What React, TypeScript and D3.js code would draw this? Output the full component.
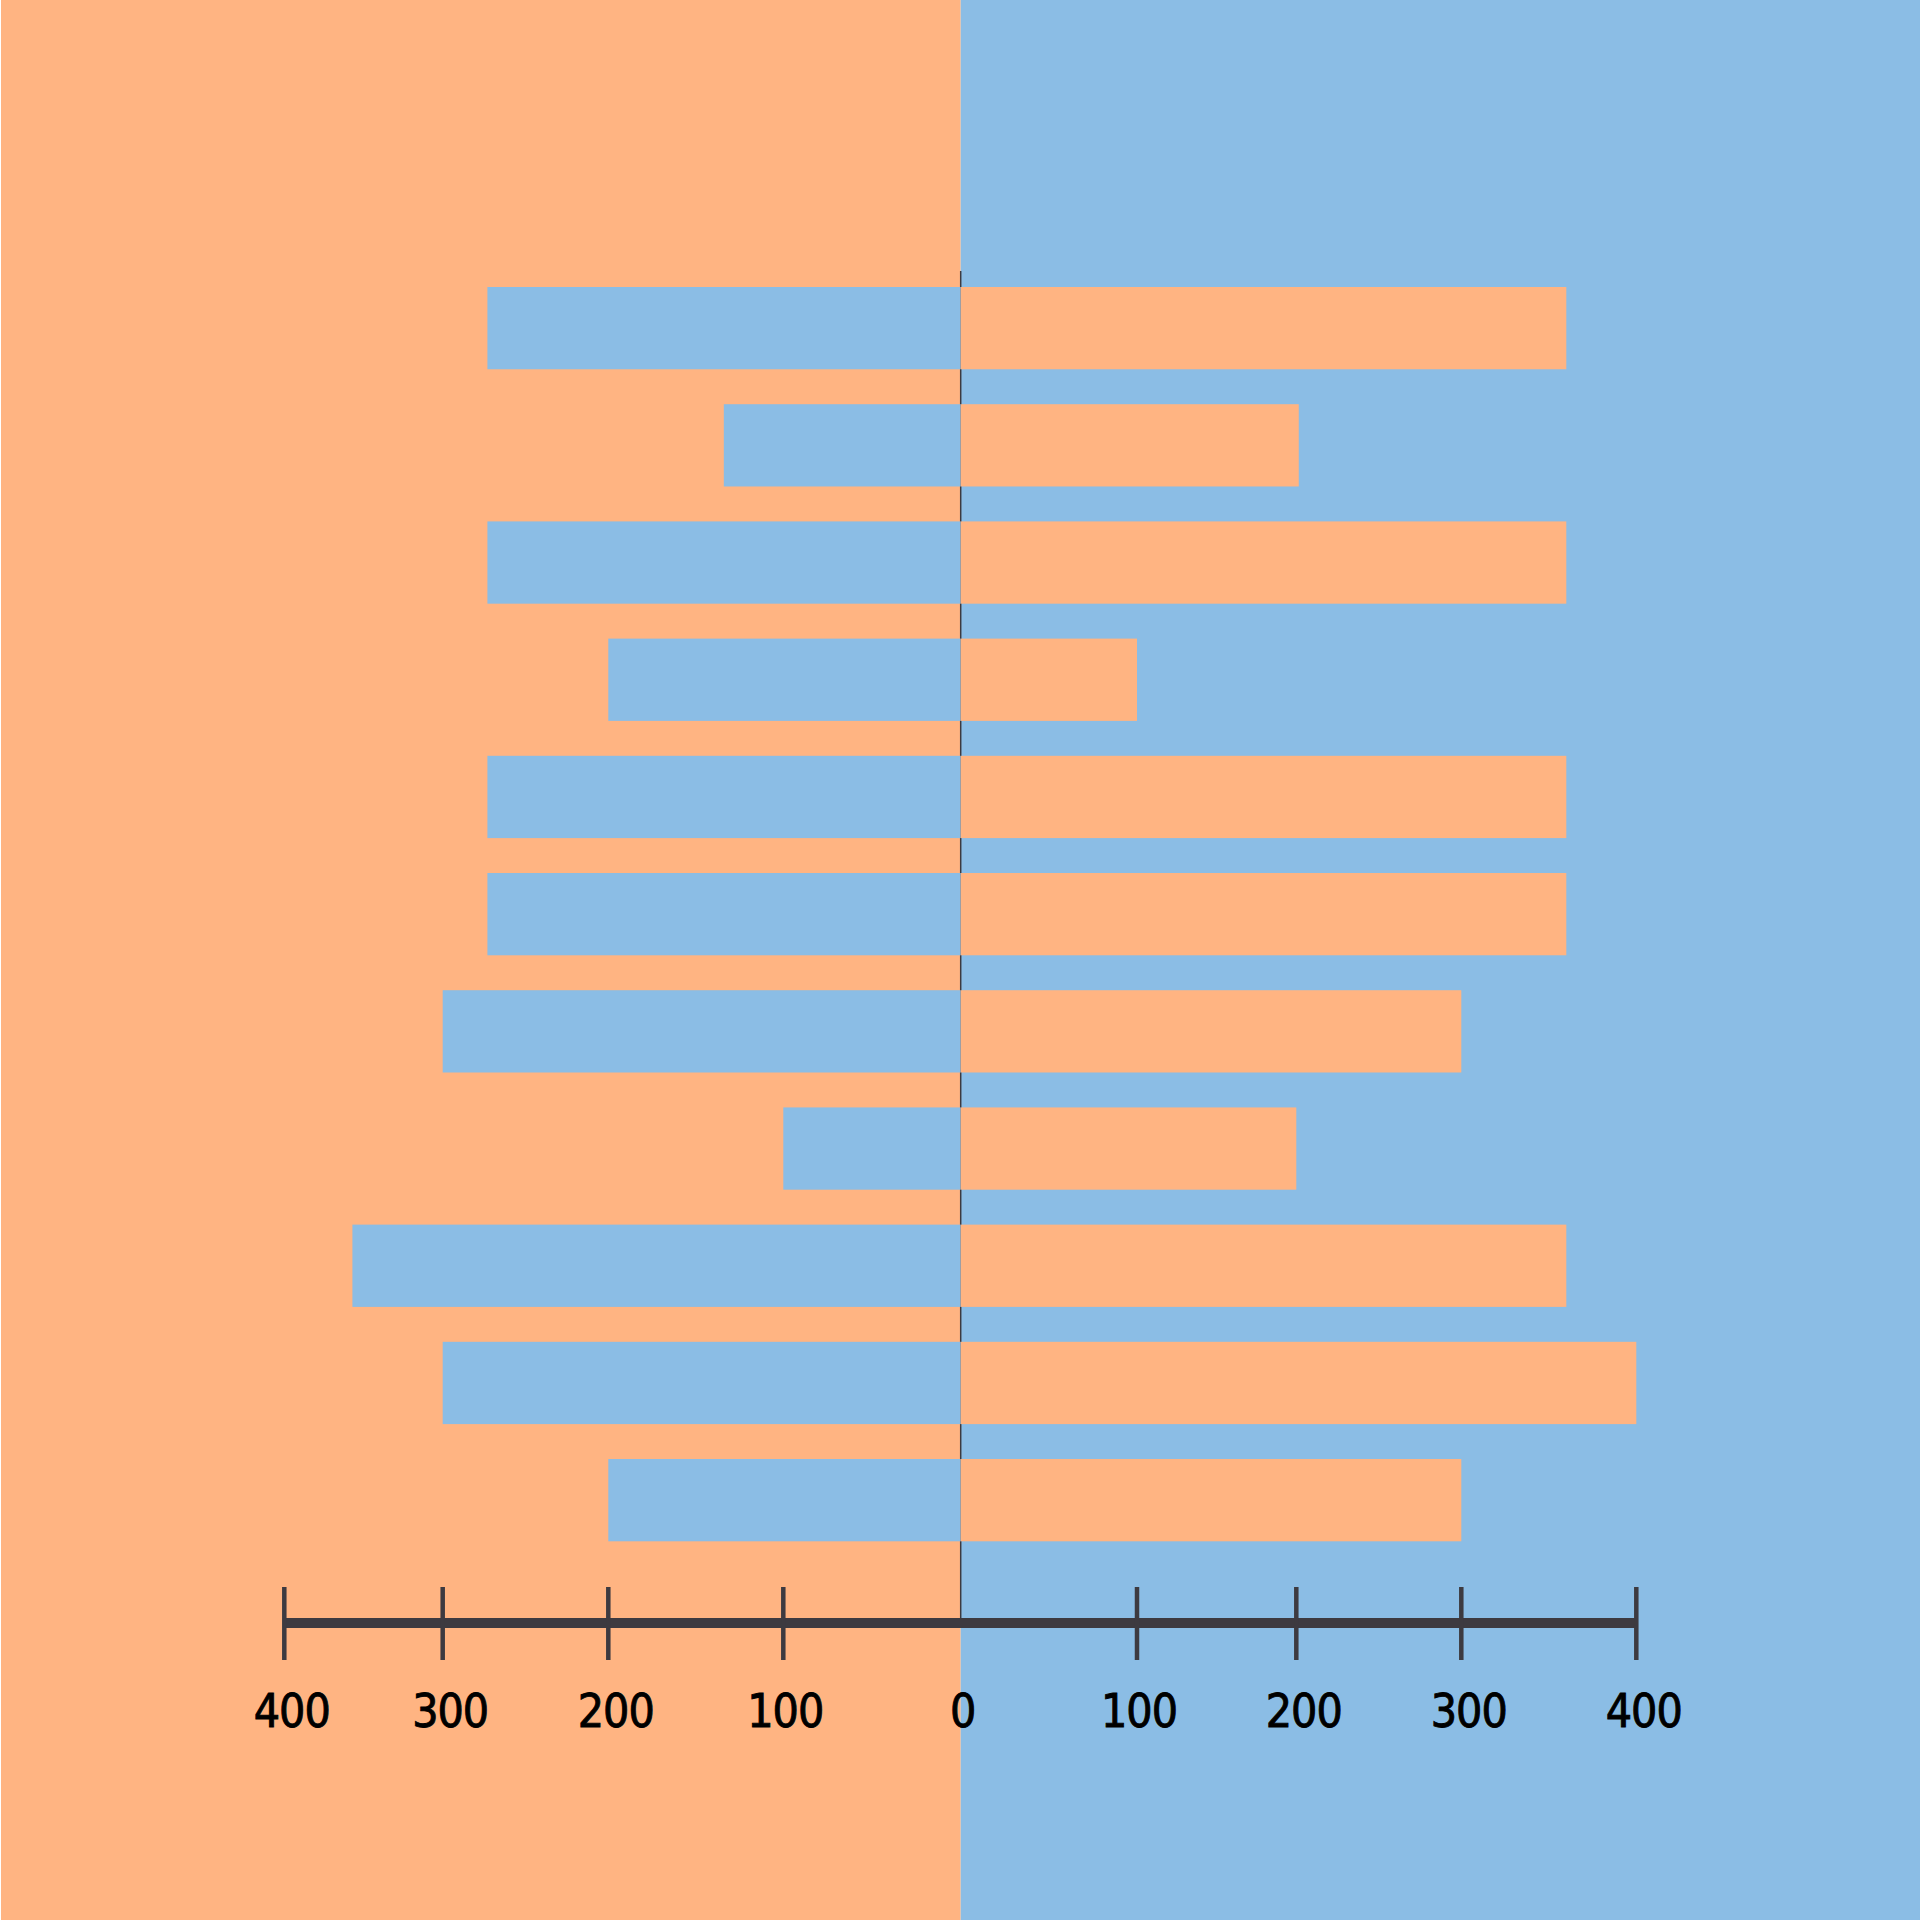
import React from "react";
import * as d3 from "d3";

const categories = ["r1", "r2", "r3", "r4", "r5", "r6", "r7", "r8", "r9", "r10", "r11"];
const leftValues = [273, 134, 273, 200, 273, 273, 300, 100, 357, 300, 200];
const rightValues = [360, 201.5, 360, 100, 360, 360, 300, 200, 360, 400, 300];
const tickValues = [100, 200, 300, 400];
const zeroLabel = "0";

const ORANGE = "#ffb482";
const BLUE = "#8bbde5";
const DARK = "#3d3a40";

export default function App() {
  const W = 1921;
  const H = 1921;
  const cx = 960.7;

  const domain = [0, 100, 200, 300, 400];
  const left = d3.scaleLinear().domain(domain).range([cx, 783.3, 608.3, 442.7, 284.3]);
  const right = d3.scaleLinear().domain(domain).range([cx, 1137, 1296.3, 1461.3, 1636.3]);

  const y = d3
    .scaleBand<string>()
    .domain(categories)
    .range([287, 1541.3])
    .paddingInner(0.298)
    .paddingOuter(0);

  const axisY = 1623;
  const font = "'DejaVu Sans Condensed', 'DejaVu Sans', sans-serif";
  const labelY = 1727;
  const labelDx = (v: number) => (String(v).startsWith("1") || v === 0 ? 2 : 7.5);

  return (
    <svg
      width={W}
      height={H}
      style={{ position: "absolute", left: 0, top: 0, display: "block" }}
    >
      <rect x={0} y={0} width={W} height={H} fill="#ffffff" />
      <rect x={1} y={0} width={cx - 1} height={H - 1} fill={ORANGE} />
      <rect x={cx} y={0} width={W - 1 - cx} height={H - 1} fill={BLUE} />

      <line x1={cx} x2={cx} y1={271} y2={axisY} stroke={DARK} strokeWidth={1.5} />

      {categories.map((c, i) => (
        <g key={c}>
          <rect
            x={left(leftValues[i])}
            y={y(c)}
            width={cx - left(leftValues[i])}
            height={y.bandwidth()}
            fill={BLUE}
          />
          <rect
            x={cx}
            y={y(c)}
            width={right(rightValues[i]) - cx}
            height={y.bandwidth()}
            fill={ORANGE}
          />
        </g>
      ))}

      <line
        x1={left(400)}
        x2={right(400)}
        y1={axisY}
        y2={axisY}
        stroke={DARK}
        strokeWidth={10}
      />
      {tickValues.map((v) => (
        <g key={"t" + v}>
          <line x1={left(v)} x2={left(v)} y1={1587} y2={1660} stroke={DARK} strokeWidth={4.5} />
          <line x1={right(v)} x2={right(v)} y1={1587} y2={1660} stroke={DARK} strokeWidth={4.5} />
        </g>
      ))}

      <g
        fontFamily={font}
        fontSize={46}
        fill="#000"
        stroke="#000"
        strokeWidth={0.9}
        letterSpacing={-1}
        textAnchor="middle"
        style={{ fontStretch: "condensed" }}
      >
        {tickValues.map((v) => (
          <text key={"ll" + v} x={left(v) + labelDx(v)} y={labelY}>
            {v}
          </text>
        ))}
        <text x={cx + labelDx(0)} y={labelY}>
          {zeroLabel}
        </text>
        {tickValues.map((v) => (
          <text key={"rl" + v} x={right(v) + labelDx(v)} y={labelY}>
            {v}
          </text>
        ))}
      </g>
    </svg>
  );
}
